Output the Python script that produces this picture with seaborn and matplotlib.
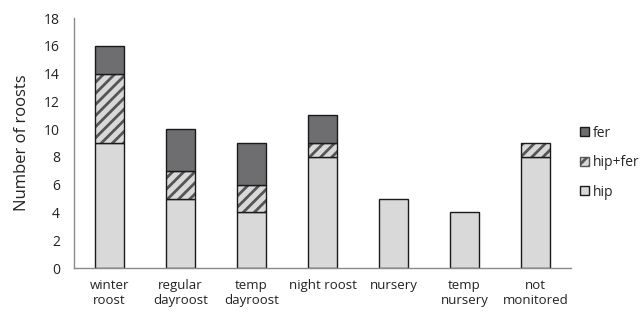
import matplotlib
matplotlib.use("Agg")
import matplotlib.pyplot as plt
import seaborn as sns
import pandas as pd
from matplotlib.patches import Patch

categories = ["winter\nroost", "regular\ndayroost", "temp\ndayroost", "night roost",
              "nursery", "temp\nnursery", "not\nmonitored"]
hip = [9, 5, 4, 8, 5, 4, 8]
hip_fer = [5, 2, 2, 1, 0, 0, 1]
fer = [2, 3, 3, 2, 0, 0, 0]
yticks = list(range(0, 19, 2))

sns.set_theme(style="white")
plt.rcParams['font.family'] = ['Open Sans', 'DejaVu Sans']
plt.rcParams['hatch.linewidth'] = 2.0

df = pd.DataFrame({"cat": categories, "hip": hip, "hip_fer": hip_fer, "fer": fer})
df["b2"] = df["hip"]
df["b3"] = df["hip"] + df["hip_fer"]
# zero-height segments are not drawn
hf = df[df["hip_fer"] > 0]
fr = df[df["fer"] > 0]

fig = plt.figure(figsize=(6.44, 3.15), dpi=100)
ax = fig.add_axes([74/644, 1 - 268/315, (571-74)/644, (268-18)/315])

light = "#d9d9d9"
dark = "#6e6e70"
W = 0.40
sns.barplot(data=df, x="cat", y="hip", order=categories, color=light, saturation=1, width=W,
            edgecolor="#1a1a1a", linewidth=1.0, ax=ax)
sns.barplot(data=hf, x="cat", y="hip_fer", order=categories, bottom=hf["b2"].values, color=light,
            saturation=1, width=W, edgecolor="#555555", linewidth=0, hatch="///", ax=ax)
sns.barplot(data=hf, x="cat", y="hip_fer", order=categories, bottom=hf["b2"].values, color="#1a1a1a",
            fill=False, width=W, edgecolor="#1a1a1a", linewidth=1.0, ax=ax)
sns.barplot(data=fr, x="cat", y="fer", order=categories, bottom=fr["b3"].values, color=dark,
            saturation=1, width=W, edgecolor="#1a1a1a", linewidth=1.0, ax=ax)

ax.set_xlim(-0.5, 6.5)
ax.set_ylim(0, 18)
ax.set_yticks(yticks)
ax.set_yticklabels([str(t) for t in yticks], fontsize=10, color="#222222")
ax.tick_params(axis="x", labelsize=9.5, colors="#222222", length=0, pad=8)
ax.tick_params(axis="y", length=0, pad=10)
ax.set_xlabel("")
ax.set_ylabel("Number of roosts", fontsize=12, color="#222222", labelpad=10)
for s in ["top", "right"]:
    ax.spines[s].set_visible(False)
ax.spines["left"].set_color("#8a8a8a")
ax.spines["bottom"].set_color("#8a8a8a")
ax.spines["left"].set_linewidth(1.0)
ax.spines["bottom"].set_linewidth(1.0)
for lbl in ax.get_xticklabels():
    lbl.set_linespacing(1.15)

handles = [
    Patch(facecolor=dark, edgecolor="#1a1a1a", label="fer"),
    Patch(facecolor=light, edgecolor="#555555", hatch="///", label="hip+fer"),
    Patch(facecolor=light, edgecolor="#1a1a1a", label="hip"),
]
fig.legend(handles=handles, loc="upper left", bbox_to_anchor=(574/644, 1 - 120/315),
           frameon=False, fontsize=10, handlelength=0.65, handleheight=0.65,
           handletextpad=0.3, labelspacing=1.05, borderaxespad=0)

fig.savefig("out.png", dpi=100)
